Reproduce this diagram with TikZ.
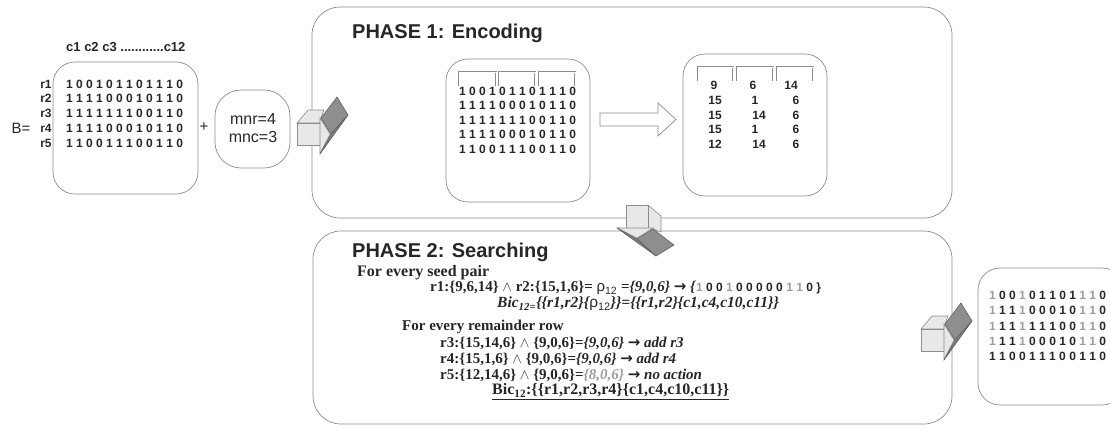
\documentclass[tikz,border=0pt]{standalone}
\usepackage{fontspec}
\setmainfont{Liberation Serif}
\setsansfont{Liberation Sans}
\newfontfamily\symfont{DejaVu Sans}
\definecolor{edge}{HTML}{8C8C8C}
\definecolor{ink}{HTML}{262626}
\definecolor{bitgrey}{HTML}{9C9C9C}
\definecolor{facelight}{HTML}{E8E8E8}
\definecolor{facedark}{HTML}{8E8E8E}
\definecolor{facedarker}{HTML}{7C7C7C}
\newcommand\g[1]{\textcolor{bitgrey}{#1}}
% solid folded arrow, pointing right, origin at the top-left corner of its front face
\newcommand\solidarrow{%
  \filldraw[fill=facelight, draw=edge, line width=0.6pt] (0,0) -- (11,-13) -- (27,-13) -- (24,-5) -- (23,0) -- cycle;
  \filldraw[fill=facelight, draw=edge, line width=0.6pt] (0,0) rectangle (23,22);
  \filldraw[fill=facelight, draw=edge, line width=0.6pt] (23,-5) -- (33,11) -- (23,31) -- cycle;
  \filldraw[fill=facedark, draw=edge!70!black, line width=0.6pt] (24,-5) -- (40,-26) -- (51,-8) -- (34,11) -- cycle;
  \filldraw[fill=facedarker, draw=edge!70!black, line width=0.6pt] (34,11) -- (51,-8) -- (23,31) -- cycle;
}
\begin{document}
\begin{tikzpicture}[x=1pt,y=-1pt,
  panel/.style={draw=edge, line width=0.7pt, rounded corners=28pt},
  card/.style={draw=edge, line width=0.7pt, rounded corners=22pt},
  bracketline/.style={draw=edge, double=white, double distance=0.9pt, line width=0.45pt},
  bits/.style={font=\sffamily\bfseries\fontsize{12}{12}\selectfont, text=ink, inner sep=0pt, anchor=west},
  lab/.style={font=\sffamily\bfseries\fontsize{12}{12}\selectfont, text=ink, inner sep=0pt},
  num/.style={font=\sffamily\bfseries\fontsize{12}{12}\selectfont, text=ink, inner sep=0pt},
  plain/.style={font=\sffamily\fontsize{15}{16}\selectfont, text=ink, inner sep=0pt},
  title/.style={font=\sffamily\bfseries\fontsize{20}{20}\selectfont, text=ink, inner sep=0pt, anchor=west},
  step line/.style={font=\bfseries\fontsize{15}{15}\selectfont, text=ink, inner sep=0pt, anchor=west},
]
\useasboundingbox (0,0) rectangle (1110,429);
\begin{scope}
\clip (0,0) rectangle (1110,429);

% ---------- input matrix B ----------
\node[plain] (beq) at (21,128.4) {B=};
\node[lab, anchor=west, font=\sffamily\bfseries\fontsize{13}{13}\selectfont] (cols) at (66,47) {c1 c2 c3 ............c12};
\draw[card] (53,62) rectangle (198,194);
\foreach \r/\y in {1/84,2/98.8,3/113.6,4/128.4,5/143.2}
  \node[lab] (rl\r) at (46,\y) {r\r};
\node[bits] (ba) at (66,84)    {1 0 0 1 0 1 1 0 1 1 1 0};
\node[bits] (bb) at (66,98.8)  {1 1 1 1 0 0 0 1 0 1 1 0};
\node[bits] (bc) at (66,113.6) {1 1 1 1 1 1 1 0 0 1 1 0};
\node[bits] (bd) at (66,128.4) {1 1 1 1 0 0 0 1 0 1 1 0};
\node[bits] (be) at (66,143.2) {1 1 0 0 1 1 1 0 0 1 1 0};

\node[plain] (plus) at (204,127) {+};
\draw[card, rounded corners=26pt] (215,90) rectangle (290,168);
\node[plain, align=center, font=\sffamily\fontsize{16}{18}\selectfont] (params) at (253,128) {mnr=4\\mnc=3};

% ---------- phase 1 ----------
\draw[panel] (312,7) rectangle (952,218);
\node[title] (p1) at (352,33) {PHASE 1: Encoding};

\draw[card] (446,59) rectangle (590,202);
\draw[bracketline] (459,86) -- (459,72) -- (496,72) -- (496,86);
\draw[bracketline] (499,86) -- (499,72) -- (535,72) -- (535,86);
\draw[bracketline] (539,86) -- (539,72) -- (575,72) -- (575,86);
\node[bits] (ea) at (459,91)   {1 0 0 1 0 1 1 0 1 1 1 0};
\node[bits] (eb) at (459,105.5){1 1 1 1 0 0 0 1 0 1 1 0};
\node[bits] (ec) at (459,120)  {1 1 1 1 1 1 1 0 0 1 1 0};
\node[bits] (ed) at (459,134.5){1 1 1 1 0 0 0 1 0 1 1 0};
\node[bits] (ee) at (459,149)  {1 1 0 0 1 1 1 0 0 1 1 0};

\filldraw[fill=white, draw=edge, line width=0.7pt]
  (600,113) -- (658,113) -- (658,103) -- (676,119.5) -- (658,136) -- (658,126) -- (600,126) -- cycle;

\draw[card] (683,54) rectangle (827,196);
\draw[bracketline] (698,81) -- (698,67) -- (733,67) -- (733,81);
\draw[bracketline] (737,81) -- (737,67) -- (773,67) -- (773,81);
\draw[bracketline] (777,81) -- (777,67) -- (813,67) -- (813,81);
\node[num] (n11) at (714,85) {9};    \node[num] (n12) at (753,85) {6};    \node[num] (n13) at (791,85) {14};
\node[num] (n21) at (715,100) {15};  \node[num] (n22) at (755,100) {1};   \node[num] (n23) at (796,100) {6};
\node[num] (n31) at (715,115) {15};  \node[num] (n32) at (759,115) {14};  \node[num] (n33) at (796,115) {6};
\node[num] (n41) at (715,129) {15};  \node[num] (n42) at (755,129) {1};   \node[num] (n43) at (796,129) {6};
\node[num] (n51) at (715,144) {12};  \node[num] (n52) at (759,144) {14};  \node[num] (n53) at (796,144) {6};

% ---------- phase 2 ----------
\draw[panel] (313,231) rectangle (952,424);
\node[title] (p2) at (352,252) {PHASE 2: Searching};
\node[step line, font=\bfseries\fontsize{16}{16}\selectfont] (s1) at (357,273) {For every seed pair};
\node[step line] (s2) at (430,288) {r1:\{9,6,14\} $\wedge$ r2:\{15,1,6\}= {\sffamily\mdseries ρ\textsubscript{12}} =\textit{\{9,0,6\}} {\symfont\bfseries →} \textit{\{}{\sffamily\fontsize{12}{12}\selectfont\g{1} 0 0 \g{1} 0 0 0 0 0 \g{1} \g{1} 0 \}}};
\node[step line, font=\bfseries\fontsize{15.5}{15.5}\selectfont] (s3) at (497,304) {\textit{Bic\textsubscript{12=}\{\{r1,r2\}\{{\sffamily\mdseries\upshape ρ\textsubscript{12}}\}\}=\{\{r1,r2\}\{c1,c4,c10,c11\}\}}};
\node[step line] (s4) at (402,327) {For every remainder row};
\node[step line] (s5) at (440,343) {r3:\{15,14,6\} $\wedge$ \{9,0,6\}=\textit{\{9,0,6\}} {\symfont\bfseries →} \textit{add r3}};
\node[step line] (s6) at (440,359) {r4:\{15,1,6\} $\wedge$ \{9,0,6\}=\textit{\{9,0,6\}} {\symfont\bfseries →} \textit{add r4}};
\node[step line] (s7) at (440,375) {r5:\{12,14,6\} $\wedge$ \{9,0,6\}=\textit{\textcolor{bitgrey}{\{8,0,6\}}} {\symfont\bfseries →} \textit{no action}};
\node[step line, font=\bfseries\fontsize{16}{16}\selectfont] (s8) at (492,391.5) {\underline{Bic\textsubscript{12}:\{\{r1,r2,r3,r4\}\{c1,c4,c10,c11\}\}}};

% ---------- result ----------
\draw[card] (978,268) rectangle (1124,405);
\node[bits] (ra) at (989,295.5) {\g1 0 0 \g1 0 1 1 0 1 \g1 \g1 0};
\node[bits] (rb) at (989,310.7) {\g1 1 1 \g1 0 0 0 1 0 \g1 \g1 0};
\node[bits] (rc) at (989,325.9) {\g1 1 1 \g1 1 1 1 0 0 \g1 \g1 0};
\node[bits] (rd) at (989,341.1) {\g1 1 1 \g1 0 0 0 1 0 \g1 \g1 0};
\node[bits] (re) at (989,356.3) {1 1 0 0 1 1 1 0 0 1 1 0};

% ---------- solid arrows between stages ----------
\begin{scope}[shift={(297,123)}] \solidarrow \end{scope}
\begin{scope}[shift={(648,205)}, rotate=-90] \solidarrow \end{scope}
\begin{scope}[shift={(921,329)}] \solidarrow \end{scope}
\end{scope}
\end{tikzpicture}
\end{document}
